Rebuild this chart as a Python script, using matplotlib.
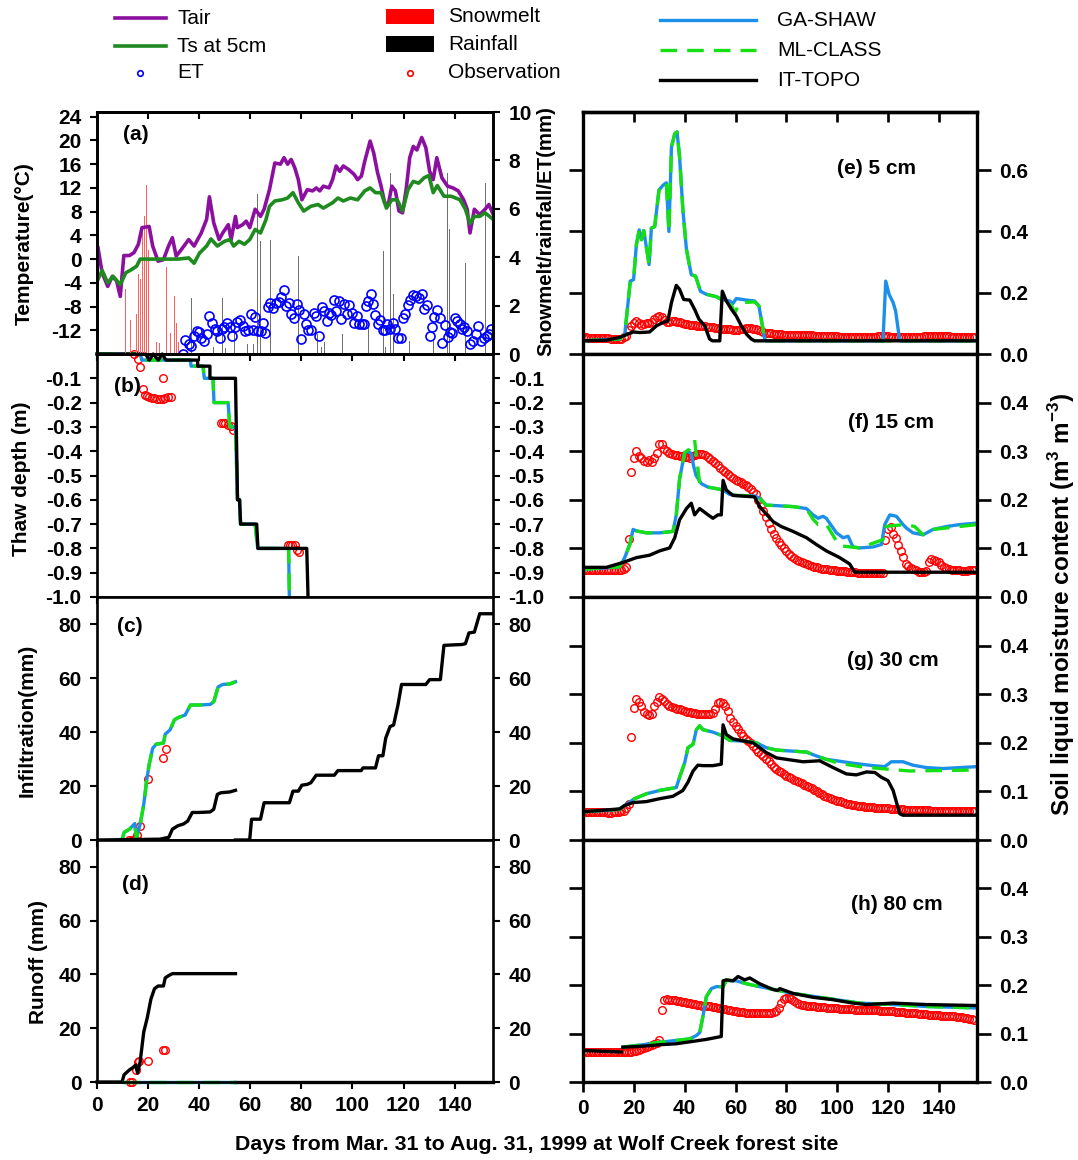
import numpy as np
import matplotlib.pyplot as plt
from matplotlib.lines import Line2D
from matplotlib.patches import Rectangle

plt.rcParams['font.family'] = ['Liberation Sans', 'DejaVu Sans']
plt.rcParams['font.weight'] = 'bold'
plt.rcParams['axes.unicode_minus'] = False
plt.rcParams['mathtext.fontset'] = 'custom'
plt.rcParams['mathtext.rm'] = 'Liberation Sans'
plt.rcParams['mathtext.bf'] = 'Liberation Sans:bold'

# ---------------- panel (a): temperature, snowmelt, rainfall, ET ----------------
tair_day = [0.4, 2, 4.2, 6, 7.7, 9.1, 10.5, 12.7, 14.5, 16.2,
            17.6, 20.4, 21.8, 23.9, 26, 28, 29.5, 31, 33, 35.9,
            38, 40.8, 42.9, 44, 45.7, 47.8, 49.2, 51.4, 52.5, 54.2,
            54.9, 57, 58.4, 59.8, 61.9, 64, 65.4, 67.5, 69.6, 71.8,
            73.2, 74.6, 76, 77.4, 78.8, 80.2, 82.3, 84.4, 85.8, 87.2,
            88.6, 90.8, 92.2, 93.6, 95, 96.4, 98.5, 100.6, 102, 103.5,
            104.8, 106.9, 108.3, 109.8, 111.2, 112.6, 114, 115.4, 116.8, 118.2,
            119.6, 121, 122.4, 123.8, 125.2, 127.1, 128.7, 130.2, 131.6, 133,
            135, 137.2, 139.3, 141.4, 143.5, 144.9, 146, 147.7, 149.8, 151.9,
            153.4, 154.8]
tair_val = [1.9, -2.3, -4.6, -2.9, -3.7, -6.3, 0.6, 0.6, 1.1, 2.5,
            5.3, 5.5, 2.2, -0.35, -0.1, 2.2, 3.6, 0.5, 1.6, 3.3,
            2.2, 4.4, 6.7, 10.5, 6.1, 3.3, 4.4, 5.8, 3.3, 7.2,
            5.3, 5.8, 6.4, 5.3, 8.4, 7.2, 8.4, 11.7, 16.2, 16,
            17.1, 16, 16.8, 15.4, 13.4, 10, 11.7, 11.5, 12, 11.5,
            12.3, 12, 13.4, 15.7, 14.8, 15.7, 15.1, 14.3, 13.4, 14,
            16.5, 19.9, 17.9, 14.6, 12.3, 9.5, 9.2, 12.3, 11.5, 8.1,
            7.8, 11.7, 17.1, 19, 18.4, 20.5, 18.8, 14.8, 13.4, 17.1,
            13.7, 12.3, 12, 11.5, 10, 8.4, 4.4, 8.4, 7.5, 8.4,
            9.2, 7.8]

ts_day = [0.4, 2, 4.2, 6.3, 9.1, 11.3, 13.4, 15.5, 16.9, 20.4,
          26, 31.7, 35.9, 38, 40.1, 42.9, 44.6, 47.1, 49.9, 52,
          53.5, 55.6, 57.7, 59.8, 61.9, 64, 66.1, 67.5, 69.6, 72.5,
          74.6, 76.7, 78.8, 80.9, 83.7, 86.5, 88.6, 92.2, 94.3, 96.4,
          99.2, 102, 104.8, 106.9, 109, 111.2, 113.3, 115.4, 117.5, 119.6,
          121.7, 123.8, 125.9, 128, 129.9, 131.6, 133.2, 135.8, 138.6, 142.1,
          144.2, 146, 147.7, 149.8, 151.9, 154.8]
ts_val = [-3.4, -1.9, -4, -2.9, -4.3, -2.3, -1.8, -1.2, 0, 0,
          0, 0, 0.2, -0.7, 1, 2.2, 3.4, 2.2, 3, 3.3,
          2.2, 3, 2.5, 3.3, 5, 4.4, 6.6, 8.9, 9.8, 10,
          10.3, 11.2, 9.5, 8.1, 8.9, 9.2, 8.6, 9.5, 10.3, 9.8,
          10.3, 10, 11.5, 12, 11.2, 11.2, 8.6, 10, 10, 8.1,
          11.7, 13.1, 12.8, 13.7, 14.1, 11.2, 12.4, 10.6, 10.6, 10,
          8.4, 6, 7.2, 7.2, 7.8, 6.8]

et_day = [33.8, 34.5, 35.9, 36.9, 38, 39, 40.1, 40.8, 41.9, 42.9,
          44, 45.2, 46, 46.9, 48, 49.1, 49.9, 50.9, 52, 53,
          53.9, 54.9, 55.9, 57, 58.1, 59.1, 60.1, 61.2, 61.9, 62.9,
          64, 65, 65.9, 66.8, 67.8, 68.9, 69.9, 71.1, 72, 73,
          73.9, 75, 76, 77, 78.1, 79.1, 79.9, 80.9, 81.9, 82.7,
          83.7, 84.8, 85.8, 87, 87.9, 88.9, 89.9, 90.8, 91.7, 92.6,
          93.6, 94.7, 95.7, 96.7, 97.8, 98.8, 99.8, 100.6, 101.7, 102.7,
          103.7, 104.5, 105.2, 106.2, 107.2, 108.1, 109, 110, 110.9, 111.9,
          112.8, 113.7, 114.7, 115.8, 116.8, 117.9, 118.9, 119.9, 120.7, 121.7,
          122.7, 123.8, 124.9, 125.9, 127.1, 128, 129, 130.2, 131.1, 132,
          133, 134.1, 135.1, 136.2, 137.2, 138.2, 139, 140, 141, 141.9,
          142.8, 143.8, 144.7, 146, 147.2, 148.3, 149.3, 150.3, 151.4, 152.5,
          153.4, 154.4]
et_val = [0.02, 0.58, 0.41, 0.32, 0.75, 0.93, 0.92, 0.66, 0.52, 0.82,
          1.58, 1.3, 1.05, 0.93, 0.66, 1.05, 1.1, 1.3, 1.1, 0.74,
          1.1, 1.33, 1.4, 1.16, 0.96, 0.99, 1.64, 0.99, 1.53, 0.96,
          0.93, 1.3, 0.85, 1.95, 2.12, 1.89, 2.12, 2.16, 2.36, 2.64,
          2, 2.12, 1.67, 1.5, 2.08, 1.81, 0.6, 1.64, 1.26, 0.99,
          0.99, 1.68, 1.55, 0.75, 1.96, 1.78, 1.37, 1.68, 1.6, 2.22,
          1.78, 2.19, 1.44, 2.08, 1.64, 2.03, 1.7, 1.3, 1.59, 1.26,
          1.26, 1.26, 2, 2.19, 2.47, 2.08, 1.6, 1.26, 1.42, 0.99,
          0.99, 1.26, 1.03, 1.3, 1.03, 0.66, 0.66, 1.48, 1.64, 2.03,
          2.22, 2.42, 2.41, 2.3, 2.47, 1.84, 2.03, 0.74, 1.1, 1.53,
          1.81, 1.5, 0.44, 1.21, 0.71, 0.89, 0.85, 1.48, 1.37, 1.26,
          1.03, 1.1, 0.96, 0.41, 0.55, 0.82, 1.16, 0.55, 0.66, 0.75,
          0.82, 1.04]

snow_day = [11.1, 13, 14.1, 15.4, 16.2, 16.9, 17.7, 18.5, 19.3, 20.3,
            21.1, 21.9, 23.2, 24.5, 27.1, 28.9, 30.2, 31, 31.9]
snow_val = [2.67, 1.4, 1.0, 1.65, 3.3, 3.1, 5.3, 5.7, 7.0, 4.3,
            6.85, 0.87, 0.5, 0.46, 3.6, 0.87, 2.4, 1.3, 0.5]

rain_day = [36.9, 38, 45.7, 48.1, 49.2, 50.2, 53.7, 56.7, 58.9, 61.2,
            62.9, 64, 67.8, 78.8, 82.6, 86.3, 87.9, 89.1, 96.1, 106.2,
            112.1, 113, 115, 116.1, 117.1, 118.2, 121, 122.4, 131.8, 137.2,
            137.9, 142.8, 144.2, 145.6, 152, 153.4]
rain_val = [2.33, 1.85, 0.3, 3.7, 2.3, 0.25, 0.95, 0.37, 0.4, 0.4,
            6.6, 4.66, 4.7, 4.07, 0.4, 0.82, 0.27, 0.48, 0.82, 1.1,
            4.25, 0.27, 7.47, 2.47, 1.64, 0.96, 8.25, 0.55, 0.55, 7.47,
            5.18, 0.82, 3.77, 0.41, 7.05, 0.55]

# ---------------- panel (b): thaw depth ----------------
thaw_ga_day = [0, 17, 17.5, 36.6, 36.8, 41.5, 42, 45.4, 45.8, 51.3,
               52, 54.2, 55.0, 55.8, 56.2, 61.9, 62.9, 75.0, 75.3]
thaw_ga_val = [0, 0, -0.025, -0.025, -0.05, -0.05, -0.1, -0.1, -0.2, -0.2,
               -0.3, -0.3, -0.6, -0.6, -0.7, -0.7, -0.8, -0.8, -1.0]
thaw_it_day = [0, 19, 20.5, 22, 24, 25.5, 27, 39.4, 39.4, 44.2,
               44.2, 54.2, 55.0, 55.8, 56.2, 62.5, 63.0, 82.1, 82.6]
thaw_it_val = [0, 0, -0.025, 0, -0.025, 0, -0.025, -0.025, -0.05, -0.05,
               -0.1, -0.1, -0.6, -0.6, -0.7, -0.7, -0.8, -0.8, -1.0]
thaw_obs_day = [14.5, 15.9, 16.9, 17.9, 18.6, 19.4, 20.4, 21.5, 22.5, 23.5,
                24.6, 25.7, 26, 26.7, 27.7, 28.8, 48.5, 49.4, 50.2, 51.4,
                52.5, 53.3, 74.6, 75.6, 76.4, 77.4, 78.4, 79.2]
thaw_obs_val = [0.0, -0.021, -0.054, -0.145, -0.169, -0.172, -0.176, -0.18, -0.183, -0.184,
                -0.184, -0.184, -0.1, -0.18, -0.178, -0.178, -0.282, -0.283, -0.286, -0.291,
                -0.297, -0.311, -0.786, -0.784, -0.786, -0.788, -0.806, -0.815]

# ---------------- panel (c): infiltration ----------------
inf_ga_day = [9.8, 10.6, 12.7, 14.8, 15.4, 15.9, 16.9, 18.3, 19.4, 20.4,
              21.8, 23.2, 26, 26.7, 28.6, 30.3, 31.7, 34.5, 36.6, 40.1,
              44.3, 45.7, 47.4, 49.2, 52, 54.2]
inf_ga_val = [0, 2.8, 4, 6.1, 0.5, 2.2, 5.9, 13.2, 21.8, 27.9,
              34, 35.5, 35.9, 39.2, 40.8, 44.5, 45.3, 46.3, 50, 50,
              50.2, 51.2, 56.7, 57.6, 57.8, 58.6]
inf_it1_day = [0, 24.6, 28.1, 29.5, 31.7, 33.8, 35.5, 37.3, 40.1, 44.3,
               45.7, 47.1, 48.5, 52, 54.2]
inf_it1_val = [0, 0.3, 1, 4, 5.3, 5.9, 7, 10.2, 10.2, 10.4,
               11.4, 16.9, 17.5, 17.8, 18.4]
inf_it2_day = [54.2, 59.3, 59.8, 60.5, 64, 65.4, 75.3, 76.7, 78.8, 80.2,
               82.3, 83.7, 85.8, 92.9, 94.3, 103.4, 104.1, 109, 110.2, 111.9,
               113, 114.7, 116.1, 117.8, 119.2, 128.7, 130.2, 134.4, 135.8, 142.8,
               144.2, 145.6, 147.7, 149.8, 155]
inf_it2_val = [0, 0, 0.4, 7.7, 7.7, 13.8, 13.8, 18.1, 18.1, 20.3,
               20.6, 21.2, 24, 24, 25.7, 25.7, 26.7, 26.7, 31.2, 31.2,
               37.7, 42, 42.6, 50, 57.6, 57.6, 59.4, 59.4, 72.1, 72.4,
               72.7, 76.7, 77, 83.8, 83.8]
inf_obs_day = [12.7, 13.6, 14.8, 15.6, 16.9, 20.1, 26, 26.9]
inf_obs_val = [0, 0, 0.4, 1.8, 5.1, 22.7, 30.4, 33.8]

# ---------------- panel (d): runoff ----------------
run_ga_day = [10, 54.2]
run_ga_val = [0, 0]
run_it_day = [0, 9.8, 10.6, 12.7, 14.1, 15.1, 15.9, 16.9, 18.3, 19.7,
              21.1, 22.5, 23.9, 26, 26.7, 28.1, 29.5, 54.2]
run_it_val = [0, 0, 2.7, 4.5, 5.4, 6.3, 3.3, 7.6, 18.6, 24,
              30.8, 34.7, 35.7, 35.7, 38.7, 39.6, 40.3, 40.3]
run_it2_day = [54.2, 155]
run_it2_val = [0, 0]
run_obs_day = [13.1, 13.6, 15.2, 15.9, 16.5, 20.1, 25.7, 26.7]
run_obs_val = [0, 0, 4.5, 7.6, 7.8, 7.8, 11.8, 11.8]

# ---------------- right panels: soil liquid moisture (daily observations) ----------------
obs_day = np.arange(0, 155)

e_obs = [0.054, 0.054, 0.053, 0.053, 0.052, 0.052, 0.052, 0.052, 0.051, 0.051,
         0.051, 0.050, 0.050, 0.050, 0.049, 0.049, 0.054, 0.060, 0.078, 0.090,
         0.100, 0.108, 0.100, 0.096, 0.098, 0.100, 0.100, 0.105, 0.115, 0.122,
         0.125, 0.120, 0.112, 0.106, 0.105, 0.107, 0.108, 0.105, 0.103, 0.100,
         0.098, 0.097, 0.096, 0.095, 0.094, 0.093, 0.092, 0.091, 0.090, 0.089,
         0.088, 0.087, 0.085, 0.084, 0.083, 0.082, 0.081, 0.080, 0.080, 0.079,
         0.079, 0.079, 0.080, 0.082, 0.084, 0.085, 0.086, 0.083, 0.080, 0.077,
         0.075, 0.072, 0.070, 0.068, 0.067, 0.066, 0.065, 0.064, 0.064, 0.063,
         0.063, 0.063, 0.062, 0.062, 0.062, 0.062, 0.062, 0.061, 0.061, 0.061,
         0.061, 0.060, 0.060, 0.060, 0.060, 0.059, 0.059, 0.058, 0.058, 0.058,
         0.058, 0.057, 0.057, 0.057, 0.057, 0.056, 0.056, 0.056, 0.056, 0.056,
         0.056, 0.056, 0.056, 0.056, 0.056, 0.057, 0.058, 0.059, 0.060, 0.059,
         0.058, 0.057, 0.056, 0.055, 0.055, 0.055, 0.055, 0.055, 0.055, 0.055,
         0.056, 0.056, 0.057, 0.057, 0.058, 0.058, 0.058, 0.058, 0.058, 0.058,
         0.058, 0.058, 0.058, 0.058, 0.058, 0.057, 0.057, 0.057, 0.057, 0.057,
         0.057, 0.057, 0.057, 0.057, 0.057]
e_ga_day = [0, 14.4, 16.4, 18.6, 19.9, 21, 22.1, 23, 23.9, 26,
            26.9, 28.2, 29.9, 31.5, 32.8, 33.8, 34.8, 36.1, 37, 38,
            39.3, 40.7, 42.6, 44.3, 46.2, 48.5, 52.5, 54.4, 57.7, 59,
            60.3, 64.3, 67.5, 69.2, 71.5, 72.1, 118, 119.1, 120.4, 122,
            123, 124.6, 155]
e_ga_val = [0.043, 0.049, 0.062, 0.238, 0.243, 0.357, 0.405, 0.373, 0.403, 0.292,
            0.411, 0.416, 0.535, 0.551, 0.559, 0.4, 0.676, 0.719, 0.725, 0.643,
            0.47, 0.341, 0.259, 0.254, 0.205, 0.195, 0.187, 0.178, 0.173, 0.165,
            0.181, 0.176, 0.173, 0.157, 0.049, 0.043, 0.043, 0.238, 0.195, 0.168,
            0.14, 0.043, 0.043]
e_ml_day = e_ga_day[:29] + [59.7, 61, 63, 67.5, 69.2, 71.5, 72.1, 155]
e_ml_val = e_ga_val[:29] + [0.133, 0.157, 0.168, 0.17, 0.157, 0.049, 0.043, 0.043]
e_it_day = [0, 9.2, 14.4, 19.7, 22.3, 26.2, 28.9, 31.5, 33.4, 34.8,
            36.7, 38, 39.6, 42, 43.9, 45.6, 47.9, 49.8, 50.9, 53.8,
            54.8, 56.4, 58.4, 60.3, 62.3, 64.3, 66.2, 67.5, 155]
e_it_val = [0.043, 0.045, 0.054, 0.072, 0.07, 0.072, 0.092, 0.103, 0.108, 0.168,
            0.224, 0.211, 0.178, 0.176, 0.146, 0.114, 0.092, 0.049, 0.043, 0.043,
            0.205, 0.173, 0.146, 0.124, 0.092, 0.065, 0.049, 0.043, 0.043]

f_obs = [0.055, 0.055, 0.055, 0.055, 0.055, 0.055, 0.055, 0.055, 0.055, 0.055,
         0.055, 0.055, 0.056, 0.056, 0.056, 0.056, 0.058, 0.062, 0.120, 0.258,
         0.287, 0.300, 0.290, 0.285, 0.280, 0.278, 0.282, 0.278, 0.285, 0.297,
         0.314, 0.314, 0.305, 0.300, 0.296, 0.294, 0.293, 0.292, 0.291, 0.290,
         0.289, 0.288, 0.287, 0.290, 0.293, 0.294, 0.294, 0.294, 0.292, 0.288,
         0.284, 0.279, 0.275, 0.271, 0.266, 0.262, 0.258, 0.253, 0.249, 0.245,
         0.241, 0.238, 0.236, 0.233, 0.230, 0.226, 0.222, 0.217, 0.212, 0.200,
         0.190, 0.176, 0.165, 0.152, 0.140, 0.130, 0.122, 0.114, 0.106, 0.100,
         0.094, 0.089, 0.085, 0.081, 0.077, 0.074, 0.072, 0.070, 0.068, 0.066,
         0.064, 0.062, 0.061, 0.059, 0.058, 0.057, 0.057, 0.056, 0.055, 0.055,
         0.054, 0.054, 0.053, 0.053, 0.052, 0.052, 0.051, 0.051, 0.050, 0.050,
         0.050, 0.049, 0.049, 0.049, 0.049, 0.049, 0.049, 0.049, 0.049, 0.118,
         0.140, 0.145, 0.130, 0.122, 0.108, 0.095, 0.082, 0.068, 0.063, 0.060,
         0.057, 0.055, 0.052, 0.051, 0.051, 0.053, 0.071, 0.078, 0.077, 0.074,
         0.072, 0.066, 0.062, 0.059, 0.057, 0.056, 0.055, 0.055, 0.055, 0.054,
         0.054, 0.054, 0.055, 0.055, 0.055]
f_ga_day = [0, 14.4, 16.4, 18.4, 19.7, 21, 24.9, 30.2, 35.4, 36.7,
            38, 40, 41.3, 42.6, 43.5, 44.5, 46.6, 49.2, 52.5, 55.1,
            57.7, 60.3, 67.5, 69.5, 72.1, 76.1, 82.6, 87.9, 90.5, 92.5,
            94.4, 95.7, 99.7, 102.3, 104.3, 106.2, 108.9, 114.1, 117.4, 118.7,
            120.7, 123.3, 125.9, 127.2, 129.8, 133.8, 137.7, 143, 148.2, 155]
f_ga_val = [0.057, 0.062, 0.081, 0.108, 0.139, 0.136, 0.132, 0.132, 0.135, 0.169,
            0.243, 0.297, 0.3, 0.295, 0.27, 0.25, 0.233, 0.226, 0.223, 0.22,
            0.211, 0.209, 0.208, 0.203, 0.189, 0.188, 0.186, 0.182, 0.169, 0.162,
            0.166, 0.162, 0.132, 0.122, 0.125, 0.103, 0.101, 0.103, 0.108, 0.149,
            0.169, 0.166, 0.149, 0.142, 0.132, 0.128, 0.139, 0.145, 0.149, 0.152]
f_ml_day = [0, 14.4, 16.4, 18.4, 19.7, 21, 24.9, 30.2, 35.4, 36.7,
            38, 40, 42, 43.9, 45.9, 49.2, 52.5, 55.1, 57.7, 60.3,
            67.5, 69.5, 72.1, 76.1, 82.6, 87.9, 90.5, 92.5, 95.7, 99.7,
            101.6, 108.9, 118, 119.3, 122, 127.2, 130.5, 133.8, 137.7, 155]
f_ml_val = [0.057, 0.062, 0.081, 0.108, 0.139, 0.136, 0.132, 0.132, 0.135, 0.169,
            0.243, 0.297, 0.305, 0.323, 0.233, 0.226, 0.223, 0.22, 0.211, 0.209,
            0.208, 0.203, 0.189, 0.188, 0.186, 0.182, 0.16, 0.149, 0.15, 0.115,
            0.105, 0.101, 0.118, 0.145, 0.147, 0.149, 0.145, 0.128, 0.139, 0.149]
f_it_day = [0, 9.2, 15.7, 21, 26.2, 30.2, 34.1, 36.1, 38, 40.7,
            42.6, 43.9, 45.9, 49.2, 51.1, 53.1, 54.4, 55.1, 56.4, 59,
            67.5, 69.5, 74.8, 78, 82.6, 87.9, 91.8, 95.7, 101, 104.9,
            106.9, 155]
f_it_val = [0.061, 0.061, 0.071, 0.081, 0.086, 0.095, 0.101, 0.122, 0.159, 0.182,
            0.193, 0.169, 0.182, 0.169, 0.162, 0.169, 0.169, 0.24, 0.22, 0.209,
            0.206, 0.186, 0.155, 0.145, 0.135, 0.122, 0.108, 0.095, 0.081, 0.068,
            0.051, 0.051]

g_obs = [0.058, 0.058, 0.058, 0.058, 0.057, 0.057, 0.057, 0.057, 0.057, 0.057,
         0.056, 0.056, 0.057, 0.057, 0.058, 0.059, 0.060, 0.065, 0.075, 0.212,
         0.271, 0.290, 0.283, 0.275, 0.264, 0.260, 0.258, 0.260, 0.275, 0.283,
         0.295, 0.290, 0.287, 0.280, 0.275, 0.273, 0.271, 0.270, 0.269, 0.268,
         0.266, 0.264, 0.263, 0.262, 0.261, 0.260, 0.260, 0.260, 0.260, 0.260,
         0.260, 0.261, 0.270, 0.281, 0.283, 0.282, 0.275, 0.265, 0.251, 0.242,
         0.234, 0.228, 0.221, 0.214, 0.208, 0.203, 0.200, 0.193, 0.187, 0.182,
         0.177, 0.172, 0.167, 0.162, 0.157, 0.151, 0.146, 0.142, 0.139, 0.135,
         0.132, 0.129, 0.127, 0.124, 0.122, 0.120, 0.117, 0.114, 0.112, 0.109,
         0.106, 0.103, 0.100, 0.097, 0.094, 0.091, 0.089, 0.087, 0.085, 0.083,
         0.081, 0.080, 0.078, 0.076, 0.075, 0.074, 0.072, 0.071, 0.070, 0.069,
         0.069, 0.068, 0.068, 0.067, 0.067, 0.066, 0.066, 0.066, 0.065, 0.065,
         0.065, 0.064, 0.064, 0.064, 0.063, 0.063, 0.063, 0.062, 0.062, 0.062,
         0.062, 0.061, 0.061, 0.061, 0.061, 0.061, 0.061, 0.060, 0.060, 0.060,
         0.060, 0.060, 0.060, 0.060, 0.060, 0.059, 0.059, 0.059, 0.059, 0.059,
         0.059, 0.059, 0.059, 0.059, 0.059]
g_ga_day = [0, 14.4, 16.4, 20.3, 24.9, 30.2, 36.7, 38, 40, 41.3,
            43.3, 44.6, 45.9, 47.2, 51.1, 55.1, 57.7, 64.3, 68.2, 72.1,
            76.1, 87.9, 91.8, 95.7, 99.7, 106.2, 114.1, 118.7, 121.3, 125.9,
            129.8, 135.1, 141.6, 148.2, 155]
g_ga_val = [0.058, 0.063, 0.071, 0.085, 0.095, 0.102, 0.108, 0.129, 0.159, 0.19,
            0.197, 0.227, 0.235, 0.227, 0.222, 0.214, 0.205, 0.203, 0.2, 0.19,
            0.185, 0.181, 0.173, 0.166, 0.163, 0.158, 0.153, 0.151, 0.161, 0.161,
            0.154, 0.149, 0.147, 0.149, 0.151]
g_ml_day = g_ga_day[:24] + [99.7, 108.9, 119.3, 128.5, 155]
g_ml_val = g_ga_val[:24] + [0.159, 0.151, 0.146, 0.142, 0.144]
g_it_day = [0, 14.4, 16.4, 19.7, 24.9, 30.2, 35.4, 39.3, 41.3, 43.3,
            45.2, 47.2, 51.1, 54.4, 55.1, 56.4, 59, 66.9, 72.1, 76.1,
            81.3, 86.6, 93.1, 98.4, 103.6, 107.5, 111.5, 114.8, 117.4, 120,
            122, 124.6, 125.9, 155]
g_it_val = [0.058, 0.064, 0.071, 0.077, 0.079, 0.085, 0.09, 0.102, 0.119, 0.142,
            0.154, 0.153, 0.153, 0.156, 0.237, 0.217, 0.208, 0.2, 0.18, 0.169,
            0.165, 0.161, 0.163, 0.149, 0.136, 0.134, 0.14, 0.139, 0.129, 0.122,
            0.102, 0.054, 0.051, 0.051]

h_obs = [0.062, 0.062, 0.062, 0.062, 0.062, 0.062, 0.062, 0.062, 0.062, 0.062,
         0.062, 0.062, 0.062, 0.062, 0.062, 0.062, 0.062, 0.062, 0.063, 0.063,
         0.064, 0.065, 0.066, 0.068, 0.070, 0.072, 0.074, 0.076, 0.078, 0.081,
         0.086, 0.148, 0.170, 0.171, 0.170, 0.170, 0.169, 0.168, 0.167, 0.166,
         0.165, 0.164, 0.163, 0.162, 0.161, 0.160, 0.159, 0.158, 0.157, 0.157,
         0.156, 0.155, 0.154, 0.153, 0.152, 0.151, 0.150, 0.149, 0.148, 0.147,
         0.146, 0.145, 0.144, 0.144, 0.143, 0.143, 0.143, 0.143, 0.143, 0.143,
         0.143, 0.143, 0.143, 0.143, 0.143, 0.145, 0.147, 0.152, 0.163, 0.172,
         0.174, 0.174, 0.172, 0.168, 0.164, 0.161, 0.160, 0.159, 0.158, 0.157,
         0.156, 0.156, 0.155, 0.155, 0.154, 0.154, 0.153, 0.153, 0.152, 0.152,
         0.152, 0.151, 0.151, 0.151, 0.151, 0.150, 0.150, 0.149, 0.149, 0.149,
         0.149, 0.148, 0.148, 0.148, 0.148, 0.148, 0.148, 0.147, 0.147, 0.147,
         0.147, 0.146, 0.146, 0.145, 0.145, 0.144, 0.144, 0.143, 0.143, 0.143,
         0.142, 0.142, 0.141, 0.141, 0.140, 0.140, 0.139, 0.139, 0.138, 0.138,
         0.138, 0.137, 0.137, 0.137, 0.136, 0.136, 0.136, 0.135, 0.135, 0.134,
         0.133, 0.132, 0.131, 0.130, 0.129]
h_ga_day = [15.7, 23.6, 30.2, 36.7, 42, 44.6, 45.9, 47.2, 48.5, 50.5,
            52.5, 55.1, 56.4, 60.3, 64.3, 69.5, 76.1, 82.6, 95.7, 108.9,
            122, 135.1, 155]
h_ga_val = [0.072, 0.077, 0.082, 0.086, 0.089, 0.096, 0.102, 0.136, 0.176, 0.193,
            0.197, 0.197, 0.21, 0.209, 0.203, 0.197, 0.19, 0.183, 0.173, 0.163,
            0.16, 0.156, 0.153]
h_it1_day = [0, 15.1]
h_it1_val = [0.065, 0.062]
h_it_day = [15.7, 23.6, 30.2, 36.7, 43.3, 48.5, 54.4, 55.1, 56.4, 59,
            61, 63.6, 65.6, 69.5, 74.8, 76.7, 77.4, 82.6, 90.5, 98.4,
            106.2, 111.5, 122, 135.1, 155]
h_it_val = [0.072, 0.074, 0.077, 0.079, 0.084, 0.088, 0.094, 0.209, 0.211, 0.209,
            0.218, 0.211, 0.215, 0.203, 0.191, 0.189, 0.193, 0.183, 0.175, 0.17,
            0.163, 0.16, 0.163, 0.16, 0.158]

# ---------------- styling ----------------
c_tair = '#8B10A0'
c_ts = '#1F8A1F'
c_ga = '#1C8FE8'
c_ml = '#14E014'
c_it = 'black'
ml_dash = (0, (5, 3))
LW = 2.4

FW, FH = 1078, 1160
fig = plt.figure(figsize=(FW / 100, FH / 100), dpi=100)


def box(x0, y0, x1, y1):
    return [x0 / FW, 1 - y1 / FH, (x1 - x0) / FW, (y1 - y0) / FH]


def fx(px):
    return px / FW


def fy(py):
    return 1 - py / FH


rows = [(112, 354), (354, 597), (597, 840), (840, 1082)]
lax = [fig.add_axes(box(97, r0, 493, r1)) for r0, r1 in rows]
rax = [fig.add_axes(box(583, r0, 977, r1)) for r0, r1 in rows]


def style(ax, spw, ylen, xlen, last):
    for s in ax.spines.values():
        s.set_linewidth(spw)
    ax.set_xlim(0, 155)
    ax.set_xticks(np.arange(0, 141, 20))
    ax.tick_params(axis='x', direction='out', length=xlen, width=spw * 0.8,
                   labelbottom=last, labelsize=15, pad=5)
    ax.tick_params(axis='y', direction='out', length=ylen, width=spw * 0.8,
                   labelsize=15, pad=6)


def top_ticks(ax, spw, xlen):
    sec = ax.secondary_xaxis('top')
    sec.set_xticks(np.arange(0, 141, 20))
    sec.tick_params(direction='in', length=xlen, width=spw * 0.8, labeltop=False)
    sec.spines['top'].set_linewidth(spw)


obs_kw = dict(ls='none', marker='o', mfc='none', mec='red', ms=5.5, mew=1.0)

# (a)
ax = lax[0]
ax2 = ax.twinx()
style(ax, 1.9, 5, 5, False)
style(ax2, 1.9, 5, 5, False)
ax.set_zorder(ax2.get_zorder() + 1)
ax.patch.set_visible(False)
ax2.bar(snow_day, snow_val, width=0.3, color='#FF6060', linewidth=0)
ax2.bar(rain_day, rain_val, width=0.25, color='#707070', linewidth=0)
ax2.plot(et_day, et_val, ls='none', marker='o', mfc='none', mec='#0000FF', ms=6.5, mew=1.2)
ax2.set_ylim(0, 10)
ax2.set_yticks(np.arange(0, 11, 2))
ax.plot(tair_day, tair_val, color=c_tair, lw=2.6)
ax.plot(ts_day, ts_val, color=c_ts, lw=2.6)
ax.set_ylim(-16, 24.8)
ax.set_yticks(np.arange(-12, 25, 4))
top_ticks(ax, 1.9, 5)

# (b)
ax = lax[1]
style(ax, 1.9, 5, 5, False)
ax.plot(thaw_obs_day, thaw_obs_val, clip_on=False, **obs_kw)
ax.plot(thaw_ga_day, thaw_ga_val, color=c_ga, lw=LW, clip_on=False)
ax.plot(thaw_ga_day, thaw_ga_val, color=c_ml, lw=LW, ls=ml_dash, clip_on=False)
ax.plot(thaw_it_day, thaw_it_val, color=c_it, lw=LW, clip_on=False)
ax.set_ylim(-1.0, 0.0)
ax.set_yticks(np.round(np.arange(-1.0, -0.05, 0.1), 1))
ax.yaxis.set_major_formatter('{x:.1f}')
ax.tick_params(axis='y', right=True, labelright=True)

# (c)
ax = lax[2]
style(ax, 1.9, 5, 5, False)
ax.plot(inf_obs_day, inf_obs_val, **obs_kw)
ax.plot(inf_ga_day, inf_ga_val, color=c_ga, lw=LW)
ax.plot(inf_ga_day, inf_ga_val, color=c_ml, lw=LW, ls=ml_dash)
ax.plot(inf_it1_day, inf_it1_val, color=c_it, lw=LW)
ax.plot(inf_it2_day, inf_it2_val, color=c_it, lw=LW)
ax.set_ylim(0, 90)
ax.set_yticks(np.arange(0, 81, 20))
ax.tick_params(axis='y', right=True, labelright=True)

# (d)
ax = lax[3]
style(ax, 1.9, 5, 5, True)
ax.plot(run_obs_day, run_obs_val, clip_on=False, **obs_kw)
ax.plot(run_it_day, run_it_val, color=c_it, lw=LW, clip_on=False)
ax.plot(run_it2_day, run_it2_val, color=c_it, lw=LW, clip_on=False)
ax.plot(run_ga_day, run_ga_val, color=c_ga, lw=LW, clip_on=False)
ax.plot(run_ga_day, run_ga_val, color=c_ml, lw=LW, ls=ml_dash, clip_on=False)
ax.set_ylim(0, 90)
ax.set_yticks(np.arange(0, 81, 20))
ax.tick_params(axis='y', right=True, labelright=True)

# right panels
right_sets = [
    (e_obs, e_ga_day, e_ga_val, e_ml_day, e_ml_val, [(e_it_day, e_it_val)], 0.79, np.arange(0, 0.61, 0.2)),
    (f_obs, f_ga_day, f_ga_val, f_ml_day, f_ml_val, [(f_it_day, f_it_val)], 0.5, np.arange(0, 0.41, 0.1)),
    (g_obs, g_ga_day, g_ga_val, g_ml_day, g_ml_val, [(g_it_day, g_it_val)], 0.5, np.arange(0, 0.41, 0.1)),
    (h_obs, h_ga_day, h_ga_val, h_ga_day, h_ga_val, [(h_it1_day, h_it1_val), (h_it_day, h_it_val)], 0.5, np.arange(0, 0.41, 0.1)),
]
for i, (obs, gd, gv, md, mv, its, ytop, yt) in enumerate(right_sets):
    ax = rax[i]
    style(ax, 2.4, 10, 7, i == 3)
    ax.plot(obs_day, obs, **obs_kw)
    ax.plot(gd, gv, color=c_ga, lw=LW)
    ax.plot(md, mv, color=c_ml, lw=LW, ls=ml_dash)
    for d, v in its:
        ax.plot(d, v, color=c_it, lw=LW)
    ax.set_ylim(0, ytop)
    ax.set_yticks(yt)
    ax.yaxis.set_major_formatter('{x:.1f}')
    ax.tick_params(axis='y', left=True, right=True, labelleft=False, labelright=True)
    if i == 0:
        top_ticks(ax, 2.4, 7)

# panel labels
for x, y, s in [(123, 134, '(a)'), (114, 387, '(b)'), (117, 627, '(c)'), (122, 885, '(d)'),
                (837, 169, '(e) 5 cm'), (848, 423, '(f) 15 cm'), (847, 660, '(g) 30 cm'),
                (851, 905, '(h) 80 cm')]:
    fig.text(fx(x), fy(y), s, ha='left', va='center', fontsize=15)

# axis labels
for x, y, s, fs in [(24, 244, 'Temperature(°C)', 15), (546, 231, 'Snowmelt/rainfall/ET(mm)', 14.7),
                    (22, 479, 'Thaw depth (m)', 15), (27, 720, 'Infiltration(mm)', 15),
                    (38, 962, 'Runoff (mm)', 15),
                    (1062, 604, r'Soil liquid moisture content (m$^{\mathbf{3}}$ m$^{\mathbf{-3}}$)', 17.5)]:
    fig.text(fx(x), fy(y), s, rotation=90, ha='center', va='center', fontsize=fs)
fig.text(fx(537), fy(1145), 'Days from Mar. 31 to Aug. 31, 1999 at Wolf Creek forest site',
         ha='center', va='center', fontsize=15.4)

# legend (drawn by hand at the top)
def leg_line(x0, x1, y, **kw):
    fig.add_artist(Line2D([fx(x0), fx(x1)], [fy(y), fy(y)], transform=fig.transFigure, **kw))


def leg_text(x, y, s):
    fig.text(fx(x), fy(y), s, ha='left', va='center', fontsize=15, fontweight='normal')


leg_line(115, 166, 18, color=c_tair, lw=2.6)
leg_text(177, 18, 'Tair')
leg_line(115, 166, 46, color=c_ts, lw=2.6)
leg_text(177, 46, 'Ts at 5cm')
fig.add_artist(Line2D([fx(140)], [fy(73)], transform=fig.transFigure, ls='none', marker='o',
                      mfc='none', mec='#0000FF', ms=4, mew=1.2))
leg_text(177, 73, 'ET')

fig.add_artist(Rectangle((fx(386), fy(24)), 48 / FW, 15 / FH, transform=fig.transFigure,
                         facecolor='red', edgecolor='none'))
leg_text(448, 17, 'Snowmelt')
fig.add_artist(Rectangle((fx(386), fy(52)), 48 / FW, 16 / FH, transform=fig.transFigure,
                         facecolor='black', edgecolor='none'))
leg_text(448, 45, 'Rainfall')
fig.add_artist(Line2D([fx(410)], [fy(73)], transform=fig.transFigure, ls='none', marker='o',
                      mfc='none', mec='red', ms=4, mew=1.2))
leg_text(448, 73, 'Observation')

leg_line(660, 756, 20, color=c_ga, lw=LW)
leg_text(777, 20, 'GA-SHAW')
leg_line(660, 756, 50, color=c_ml, lw=LW, ls=ml_dash)
leg_text(777, 50, 'ML-CLASS')
leg_line(660, 756, 80, color=c_it, lw=LW)
leg_text(777, 80, 'IT-TOPO')

fig.savefig('out.png', dpi=100)
